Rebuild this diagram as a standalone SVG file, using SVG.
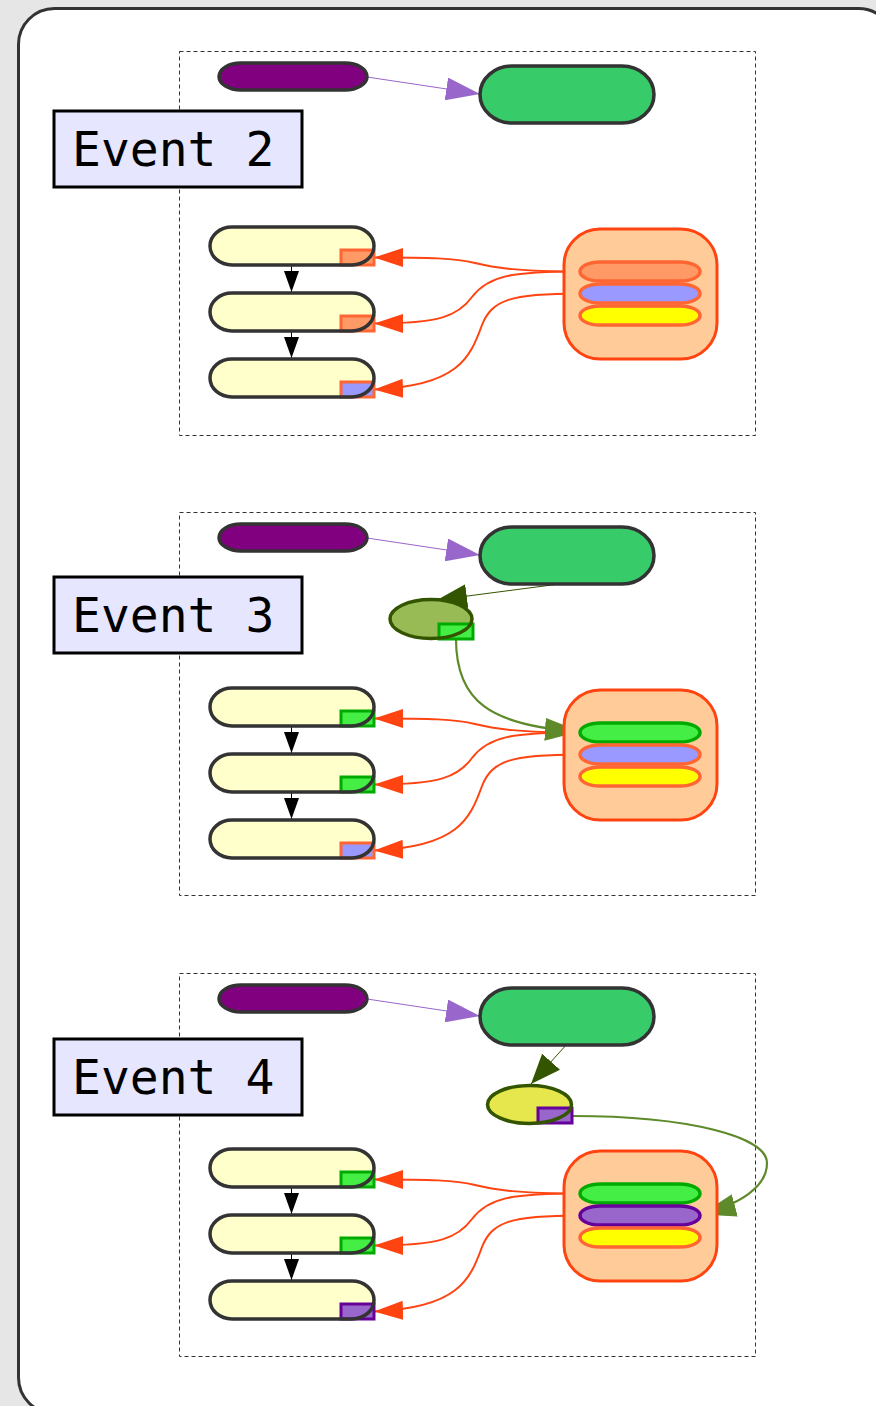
<svg xmlns="http://www.w3.org/2000/svg" width="876" height="1406" viewBox="0 0 876 1406">
  <style>
    .frame { fill: #ffffff; stroke: #333333; stroke-width: 3; }
    .panel { fill: none; stroke: #333333; stroke-width: 1; stroke-dasharray: 4 3; }
    .label rect { fill: #e6e6ff; stroke: #000000; stroke-width: 3; }
    .label text { font-family: "DejaVu Sans Mono", "Liberation Mono", monospace; font-size: 48px; fill: #000000; }
    .src { fill: #800080; stroke: #333333; stroke-width: 3.5; }
    .hub { fill: #37cc69; stroke: #333333; stroke-width: 3.5; }
    .slot { fill: #ffffcc; }
    .outline { fill: none; stroke: #333333; stroke-width: 3.5; }
    .box { fill: #ffcc99; stroke: #ff4411; stroke-width: 3; }
    .c-orange { fill: #ff9966; stroke: #ff6633; stroke-width: 3.5; }
    .c-blue { fill: #9999ff; stroke: #ff6633; stroke-width: 3.5; }
    .c-yellow { fill: #ffff00; stroke: #ff6633; stroke-width: 3.5; }
    .c-green { fill: #44ee44; stroke: #00aa00; stroke-width: 3.5; }
    .c-purple { fill: #9966cc; stroke: #660099; stroke-width: 3.5; }
    .p-orange { fill: #ff9966; stroke: #ff6633; stroke-width: 3; }
    .p-blue { fill: #9999ff; stroke: #ff6633; stroke-width: 3; }
    .p-green { fill: #44ee44; stroke: #00aa00; stroke-width: 3; }
    .p-purple { fill: #9966cc; stroke: #660099; stroke-width: 3; }
    .tok-green { fill: #99bb55; }
    .tok-yellow { fill: #e6e64d; }
    .tok-line { fill: none; stroke: #335500; stroke-width: 3.5; }
    .e-purple { fill: none; stroke: #9966cc; stroke-width: 1; marker-end: url(#ah-purple); }
    .e-black { fill: none; stroke: #000000; stroke-width: 1; marker-end: url(#ah-black); }
    .e-orange { fill: none; stroke: #ff4411; stroke-width: 2; marker-end: url(#ah-orange); }
    .e-dark { fill: none; stroke: #335500; stroke-width: 1; marker-end: url(#ah-dark); }
    .e-olive { fill: none; stroke: #5e8a2a; stroke-width: 2.2; marker-end: url(#ah-olive); }
  </style>
  <defs>
    <marker id="ah-purple" markerUnits="userSpaceOnUse" markerWidth="34" markerHeight="23" refX="34" refY="11.5" orient="auto">
      <path d="M0,0 L34,11.5 L0,23 Z" fill="#9966cc"/>
    </marker>
    <marker id="ah-black" markerUnits="userSpaceOnUse" markerWidth="21" markerHeight="15" refX="21" refY="7.5" orient="auto">
      <path d="M0,0 L21,7.5 L0,15 Z" fill="#000000"/>
    </marker>
    <marker id="ah-orange" markerUnits="userSpaceOnUse" markerWidth="29" markerHeight="19" refX="29" refY="9.5" orient="auto">
      <path d="M0,0 L29,9.5 L0,19 Z" fill="#ff4411"/>
    </marker>
    <marker id="ah-dark" markerUnits="userSpaceOnUse" markerWidth="30" markerHeight="24" refX="30" refY="12" orient="auto">
      <path d="M0,0 L30,12 L0,24 Z" fill="#335500"/>
    </marker>
    <marker id="ah-olive" markerUnits="userSpaceOnUse" markerWidth="35" markerHeight="23" refX="35" refY="11.5" orient="auto">
      <path d="M0,0 L35,11.5 L0,23 Z" fill="#5e8a2a"/>
    </marker>
  </defs>

  <rect x="0" y="0" width="876" height="1406" fill="#e6e6e6"/>
  <rect class="frame" x="18.5" y="8.5" width="876" height="1405" rx="36"/>

  <!-- Event 2 -->
  <g id="event2">
    <rect class="panel" x="179.5" y="51.5" width="576" height="384"/>
    <g id="connectors-2">
      <line class="e-purple" x1="367" y1="77" x2="480" y2="94"/>
      <line class="e-black" x1="291.5" y1="265" x2="291.5" y2="292"/>
      <line class="e-black" x1="291.5" y1="331" x2="291.5" y2="358"/>
      <path class="e-orange" d="M580,271.5 C520,271.5 495,268 475,263 C455,258 430,257.5 374,257.5"/>
      <path class="e-orange" d="M580,271.5 C510,271.5 488,276 472,297 C458,316 440,323.5 374,323.5"/>
      <path class="e-orange" d="M580,293.5 C510,293.5 492,300 482,325 C470,358 458,386 374,389.5"/>
    </g>
    <g id="e2-source"><rect class="src" x="219" y="63" width="148" height="27" rx="22" ry="13.5"/></g>
    <g id="e2-hub"><rect class="hub" x="480" y="66" width="174" height="57" rx="32" ry="28.5"/></g>
    <g id="e2-slot1"><rect class="slot" x="210" y="227" width="164" height="38" rx="22" ry="19"/><rect class="p-orange" x="341" y="250" width="33" height="15"/><rect class="outline" x="210" y="227" width="164" height="38" rx="22" ry="19"/></g>
    <g id="e2-slot2"><rect class="slot" x="210" y="293" width="164" height="38" rx="22" ry="19"/><rect class="p-orange" x="341" y="316" width="33" height="15"/><rect class="outline" x="210" y="293" width="164" height="38" rx="22" ry="19"/></g>
    <g id="e2-slot3"><rect class="slot" x="210" y="359" width="164" height="38" rx="22" ry="19"/><rect class="p-blue" x="341" y="382" width="33" height="15"/><rect class="outline" x="210" y="359" width="164" height="38" rx="22" ry="19"/></g>
    <g id="e2-store">
      <rect class="box" x="564" y="229" width="153" height="130" rx="36"/>
      <rect class="c-orange" x="580" y="262" width="120" height="19" rx="20" ry="9.5"/>
      <rect class="c-blue" x="580" y="284" width="120" height="19" rx="20" ry="9.5"/>
      <rect class="c-yellow" x="580" y="306" width="120" height="19" rx="20" ry="9.5"/>
    </g>
    <g id="e2-label" class="label">
      <rect x="54" y="111" width="248" height="76"/>
      <text x="72" y="166">Event 2</text>
    </g>
  </g>

  <!-- Event 3 -->
  <g id="event3" transform="translate(0,461)">
    <rect class="panel" x="179.5" y="51.5" width="576" height="383"/>
    <g id="connectors-3">
      <line class="e-purple" x1="367" y1="77" x2="480" y2="94"/>
      <line class="e-dark" x1="567" y1="122" x2="437" y2="139"/>
      <line class="e-black" x1="291.5" y1="265" x2="291.5" y2="292"/>
      <line class="e-black" x1="291.5" y1="331" x2="291.5" y2="358"/>
      <path class="e-orange" d="M580,271.5 C520,271.5 495,268 475,263 C455,258 430,257.5 374,257.5"/>
      <path class="e-orange" d="M580,271.5 C510,271.5 488,276 472,297 C458,316 440,323.5 374,323.5"/>
      <path class="e-orange" d="M580,293.5 C510,293.5 492,300 482,325 C470,358 458,386 374,389.5"/>
      <path class="e-olive" d="M456,178 C456,240 490,265 580,270.5"/>
    </g>
    <g id="e3-source"><rect class="src" x="219" y="63" width="148" height="27" rx="22" ry="13.5"/></g>
    <g id="e3-hub"><rect class="hub" x="480" y="66" width="174" height="57" rx="32" ry="28.5"/></g>
    <g id="e3-token"><ellipse class="tok-green" cx="431" cy="158" rx="41" ry="19.5"/><rect class="p-green" x="439" y="163" width="34" height="15"/><ellipse class="tok-line" cx="431" cy="158" rx="41" ry="19.5"/></g>
    <g id="e3-slot1"><rect class="slot" x="210" y="227" width="164" height="38" rx="22" ry="19"/><rect class="p-green" x="341" y="250" width="33" height="15"/><rect class="outline" x="210" y="227" width="164" height="38" rx="22" ry="19"/></g>
    <g id="e3-slot2"><rect class="slot" x="210" y="293" width="164" height="38" rx="22" ry="19"/><rect class="p-green" x="341" y="316" width="33" height="15"/><rect class="outline" x="210" y="293" width="164" height="38" rx="22" ry="19"/></g>
    <g id="e3-slot3"><rect class="slot" x="210" y="359" width="164" height="38" rx="22" ry="19"/><rect class="p-blue" x="341" y="382" width="33" height="15"/><rect class="outline" x="210" y="359" width="164" height="38" rx="22" ry="19"/></g>
    <g id="e3-store">
      <rect class="box" x="564" y="229" width="153" height="130" rx="36"/>
      <rect class="c-green" x="580" y="262" width="120" height="19" rx="20" ry="9.5"/>
      <rect class="c-blue" x="580" y="284" width="120" height="19" rx="20" ry="9.5"/>
      <rect class="c-yellow" x="580" y="306" width="120" height="19" rx="20" ry="9.5"/>
    </g>
    <g id="e3-label" class="label">
      <rect x="54" y="116" width="248" height="76"/>
      <text x="72" y="171">Event 3</text>
    </g>
  </g>

  <!-- Event 4 -->
  <g id="event4" transform="translate(0,922)">
    <rect class="panel" x="179.5" y="51.5" width="576" height="383"/>
    <g id="connectors-4">
      <line class="e-purple" x1="367" y1="77" x2="480" y2="94"/>
      <line class="e-dark" x1="567" y1="122" x2="531" y2="162"/>
      <line class="e-black" x1="291.5" y1="265" x2="291.5" y2="292"/>
      <line class="e-black" x1="291.5" y1="331" x2="291.5" y2="358"/>
      <path class="e-orange" d="M580,271.5 C520,271.5 495,268 475,263 C455,258 430,257.5 374,257.5"/>
      <path class="e-orange" d="M580,271.5 C510,271.5 488,276 472,297 C458,316 440,323.5 374,323.5"/>
      <path class="e-orange" d="M580,293.5 C510,293.5 492,300 482,325 C470,358 458,386 374,389.5"/>
      <path class="e-olive" d="M572,194 C690,194 767,215 767,241 C767,265 740,282 701,292.5"/>
    </g>
    <g id="e4-source"><rect class="src" x="219" y="63" width="148" height="27" rx="22" ry="13.5"/></g>
    <g id="e4-hub"><rect class="hub" x="480" y="66" width="174" height="57" rx="32" ry="28.5"/></g>
    <g id="e4-token"><ellipse class="tok-yellow" cx="529.5" cy="182.5" rx="42" ry="19"/><rect class="p-purple" x="538" y="186" width="34" height="15"/><ellipse class="tok-line" cx="529.5" cy="182.5" rx="42" ry="19"/></g>
    <g id="e4-slot1"><rect class="slot" x="210" y="227" width="164" height="38" rx="22" ry="19"/><rect class="p-green" x="341" y="250" width="33" height="15"/><rect class="outline" x="210" y="227" width="164" height="38" rx="22" ry="19"/></g>
    <g id="e4-slot2"><rect class="slot" x="210" y="293" width="164" height="38" rx="22" ry="19"/><rect class="p-green" x="341" y="316" width="33" height="15"/><rect class="outline" x="210" y="293" width="164" height="38" rx="22" ry="19"/></g>
    <g id="e4-slot3"><rect class="slot" x="210" y="359" width="164" height="38" rx="22" ry="19"/><rect class="p-purple" x="341" y="382" width="33" height="15"/><rect class="outline" x="210" y="359" width="164" height="38" rx="22" ry="19"/></g>
    <g id="e4-store">
      <rect class="box" x="564" y="229" width="153" height="130" rx="36"/>
      <rect class="c-green" x="580" y="262" width="120" height="19" rx="20" ry="9.5"/>
      <rect class="c-purple" x="580" y="284" width="120" height="19" rx="20" ry="9.5"/>
      <rect class="c-yellow" x="580" y="306" width="120" height="19" rx="20" ry="9.5"/>
    </g>
    <g id="e4-label" class="label">
      <rect x="54" y="117" width="248" height="76"/>
      <text x="72" y="172">Event 4</text>
    </g>
  </g>
</svg>
